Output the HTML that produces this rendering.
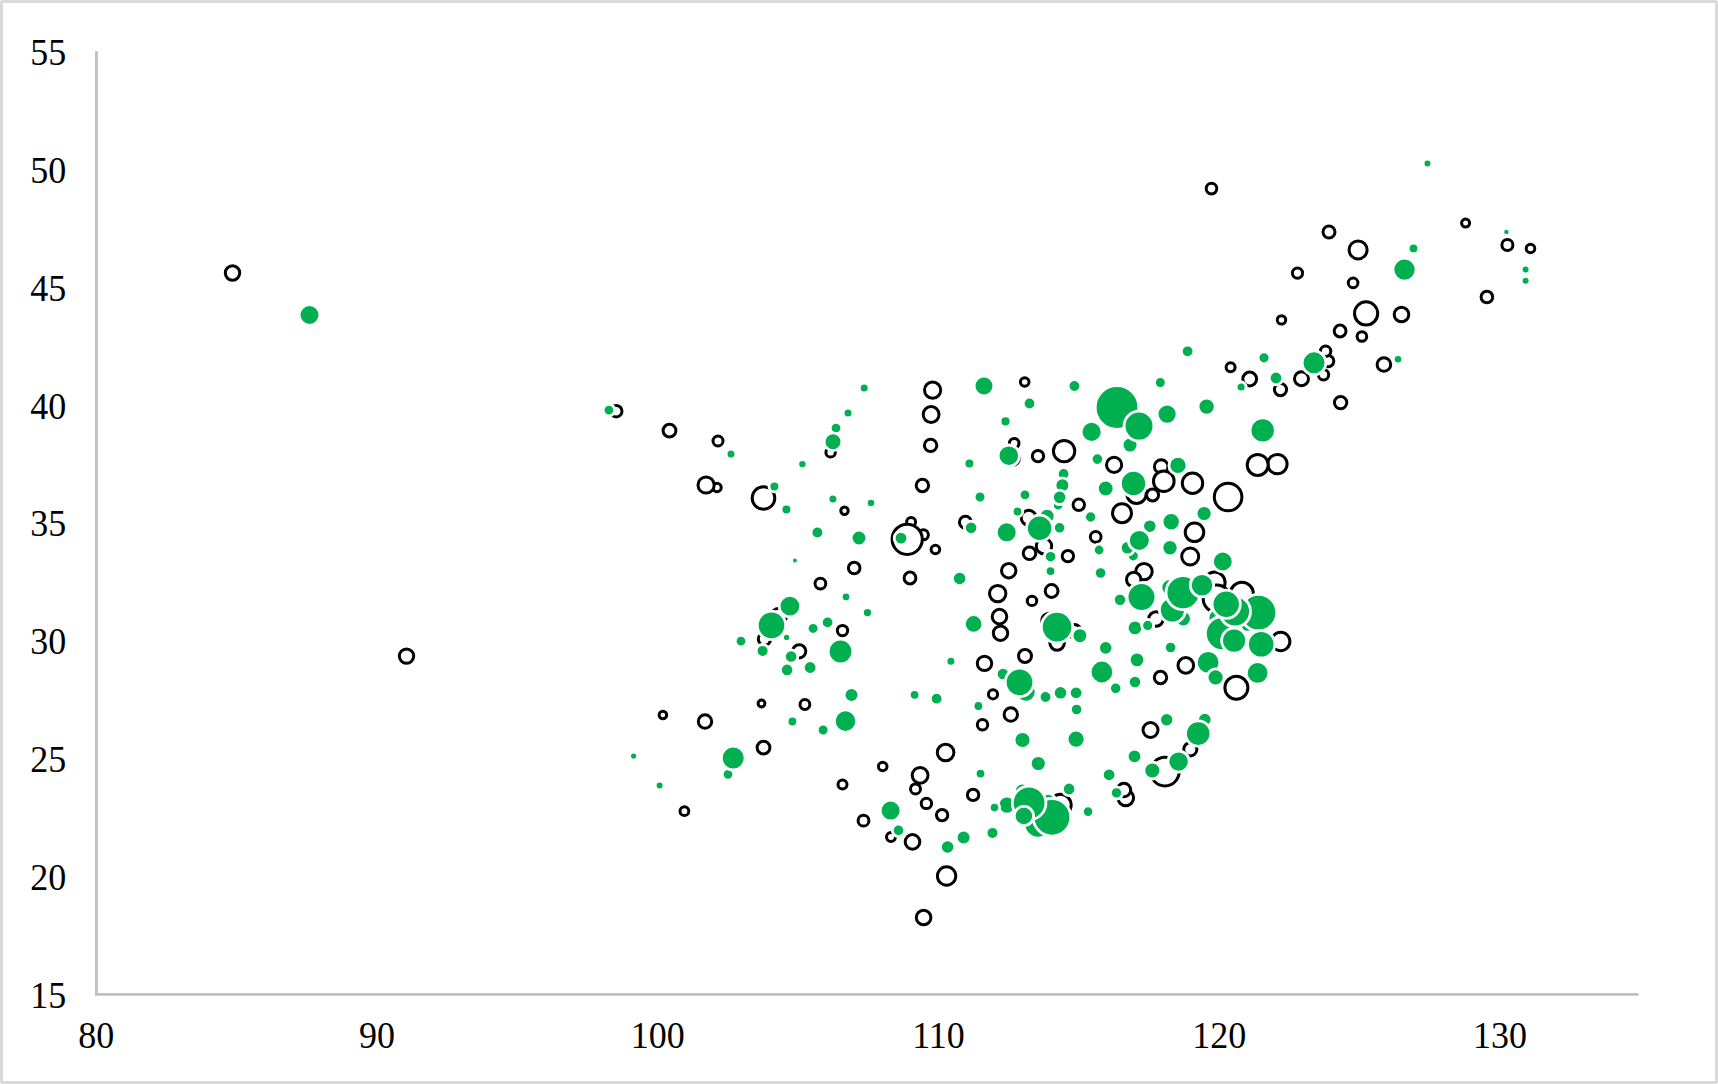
<!DOCTYPE html>
<html><head><meta charset="utf-8"><title>Bubble chart</title>
<style>
html,body{margin:0;padding:0;background:#fff;}
body{width:1718px;height:1084px;overflow:hidden;position:relative;font-family:"Liberation Serif","Noto Serif CJK SC",serif;}
svg{position:absolute;left:0;top:0;}
svg text{font-family:"Liberation Serif","Noto Serif CJK SC",serif;font-size:36px;fill:#000}
.k{fill:#fff;stroke:#000;stroke-width:3.0}
.g{fill:#00b050;stroke:#fff;stroke-width:2.8}
</style></head><body>
<svg width="1718" height="1084" viewBox="0 0 1718 1084">

<rect x="1.45" y="1.45" width="1715.1" height="1081.1" rx="1.2" fill="#fff" stroke="#d9d9d9" stroke-width="2.9"/>
<path d="M96.4 51.2V994.4H1638.5" fill="none" stroke="#bfbfbf" stroke-width="2.8"/>
<text transform="translate(66.3 1008.1) scale(1 1.03)" text-anchor="end">15</text>
<text transform="translate(66.3 890.2) scale(1 1.03)" text-anchor="end">20</text>
<text transform="translate(66.3 772.3) scale(1 1.03)" text-anchor="end">25</text>
<text transform="translate(66.3 654.3) scale(1 1.03)" text-anchor="end">30</text>
<text transform="translate(66.3 536.4) scale(1 1.03)" text-anchor="end">35</text>
<text transform="translate(66.3 418.5) scale(1 1.03)" text-anchor="end">40</text>
<text transform="translate(66.3 300.6) scale(1 1.03)" text-anchor="end">45</text>
<text transform="translate(66.3 182.6) scale(1 1.03)" text-anchor="end">50</text>
<text transform="translate(66.3 64.7) scale(1 1.03)" text-anchor="end">55</text>
<text transform="translate(96.3 1047.8) scale(1 1.03)" text-anchor="middle">80</text>
<text transform="translate(377.0 1047.8) scale(1 1.03)" text-anchor="middle">90</text>
<text transform="translate(657.8 1047.8) scale(1 1.03)" text-anchor="middle">100</text>
<text transform="translate(938.5 1047.8) scale(1 1.03)" text-anchor="middle">110</text>
<text transform="translate(1219.3 1047.8) scale(1 1.03)" text-anchor="middle">120</text>
<text transform="translate(1500.0 1047.8) scale(1 1.03)" text-anchor="middle">130</text>
<g class="k">
<circle cx="232.5" cy="273.0" r="7.2"/>
<circle cx="406.5" cy="656.1" r="7.2"/>
<circle cx="616.2" cy="411.2" r="5.8"/>
<circle cx="669.5" cy="430.6" r="6.4"/>
<circle cx="718.0" cy="441.0" r="5.0"/>
<circle cx="717.0" cy="487.5" r="4.2"/>
<circle cx="706.1" cy="485.0" r="8.1"/>
<circle cx="763.5" cy="498.0" r="11.3"/>
<circle cx="830.6" cy="452.4" r="4.7"/>
<circle cx="844.5" cy="510.7" r="3.7"/>
<circle cx="854.2" cy="568.0" r="5.8"/>
<circle cx="820.4" cy="583.6" r="5.4"/>
<circle cx="842.5" cy="630.6" r="5.2"/>
<circle cx="779.0" cy="615.8" r="7.6"/>
<circle cx="764.5" cy="639.1" r="6.2"/>
<circle cx="799.2" cy="651.3" r="6.6"/>
<circle cx="761.5" cy="703.5" r="3.4"/>
<circle cx="804.9" cy="704.5" r="4.9"/>
<circle cx="662.9" cy="715.0" r="3.8"/>
<circle cx="705.0" cy="721.5" r="6.7"/>
<circle cx="763.5" cy="747.6" r="6.4"/>
<circle cx="842.5" cy="784.6" r="4.5"/>
<circle cx="684.4" cy="811.2" r="4.4"/>
<circle cx="863.5" cy="820.7" r="5.4"/>
<circle cx="932.6" cy="390.1" r="8.1"/>
<circle cx="931.1" cy="414.5" r="7.9"/>
<circle cx="930.6" cy="445.4" r="6.2"/>
<circle cx="922.4" cy="485.5" r="6.2"/>
<circle cx="1024.7" cy="382.0" r="4.3"/>
<circle cx="1014.2" cy="443.2" r="4.8"/>
<circle cx="1012.9" cy="458.6" r="6.4"/>
<circle cx="1038.0" cy="456.1" r="5.7"/>
<circle cx="1064.1" cy="451.1" r="10.7"/>
<circle cx="1114.1" cy="464.9" r="7.6"/>
<circle cx="1078.8" cy="504.8" r="5.7"/>
<circle cx="1122.0" cy="513.2" r="9.5"/>
<circle cx="1095.7" cy="536.8" r="5.4"/>
<circle cx="1136.5" cy="493.8" r="9.7"/>
<circle cx="1152.6" cy="494.9" r="6.0"/>
<circle cx="911.1" cy="522.0" r="4.5"/>
<circle cx="923.4" cy="534.8" r="5.0"/>
<circle cx="907.2" cy="539.3" r="15.1"/>
<circle cx="965.4" cy="522.3" r="6.0"/>
<circle cx="1028.7" cy="517.8" r="7.5"/>
<circle cx="935.4" cy="549.5" r="4.3"/>
<circle cx="910.0" cy="578.0" r="5.9"/>
<circle cx="1008.7" cy="570.7" r="7.2"/>
<circle cx="1029.5" cy="553.3" r="6.3"/>
<circle cx="1044.0" cy="546.2" r="7.7"/>
<circle cx="1067.9" cy="556.1" r="5.7"/>
<circle cx="997.7" cy="593.6" r="8.2"/>
<circle cx="1051.6" cy="591.0" r="6.4"/>
<circle cx="1032.0" cy="600.9" r="4.7"/>
<circle cx="999.5" cy="616.6" r="7.3"/>
<circle cx="1000.5" cy="633.2" r="7.2"/>
<circle cx="1144.0" cy="571.6" r="8.2"/>
<circle cx="1133.7" cy="579.5" r="7.2"/>
<circle cx="1057.1" cy="643.0" r="7.2"/>
<circle cx="1049.2" cy="620.7" r="7.5"/>
<circle cx="1074.3" cy="631.2" r="6.8"/>
<circle cx="1025.0" cy="656.0" r="6.5"/>
<circle cx="984.5" cy="663.4" r="7.2"/>
<circle cx="993.0" cy="694.3" r="4.6"/>
<circle cx="1010.8" cy="714.5" r="6.7"/>
<circle cx="982.5" cy="724.8" r="5.2"/>
<circle cx="945.6" cy="752.5" r="8.3"/>
<circle cx="882.7" cy="766.5" r="4.3"/>
<circle cx="915.5" cy="788.9" r="5.0"/>
<circle cx="920.1" cy="775.3" r="7.9"/>
<circle cx="926.4" cy="803.4" r="5.2"/>
<circle cx="942.1" cy="815.1" r="5.7"/>
<circle cx="973.1" cy="794.9" r="5.7"/>
<circle cx="891.0" cy="837.0" r="4.5"/>
<circle cx="912.5" cy="841.9" r="7.3"/>
<circle cx="946.6" cy="876.0" r="9.2"/>
<circle cx="1150.5" cy="730.0" r="7.5"/>
<circle cx="1125.7" cy="797.8" r="7.9"/>
<circle cx="1123.9" cy="790.0" r="6.8"/>
<circle cx="1060.4" cy="805.0" r="10.8"/>
<circle cx="1249.7" cy="379.0" r="6.9"/>
<circle cx="1280.5" cy="389.6" r="6.1"/>
<circle cx="1301.5" cy="378.7" r="7.0"/>
<circle cx="1323.5" cy="374.7" r="5.2"/>
<circle cx="1340.6" cy="402.6" r="6.2"/>
<circle cx="1277.4" cy="464.1" r="9.7"/>
<circle cx="1257.7" cy="464.9" r="10.5"/>
<circle cx="1161.2" cy="466.5" r="6.8"/>
<circle cx="1163.8" cy="481.2" r="10.3"/>
<circle cx="1192.5" cy="483.2" r="10.2"/>
<circle cx="1228.1" cy="497.0" r="13.8"/>
<circle cx="1194.5" cy="532.3" r="9.3"/>
<circle cx="1190.2" cy="556.5" r="8.5"/>
<circle cx="1156.0" cy="619.0" r="7.3"/>
<circle cx="1214.6" cy="582.5" r="10.5"/>
<circle cx="1241.9" cy="593.8" r="11.5"/>
<circle cx="1216.8" cy="598.7" r="13.6"/>
<circle cx="1280.7" cy="641.5" r="9.2"/>
<circle cx="1185.8" cy="665.4" r="7.8"/>
<circle cx="1160.5" cy="677.5" r="6.2"/>
<circle cx="1236.4" cy="687.8" r="11.5"/>
<circle cx="1190.3" cy="749.3" r="6.6"/>
<circle cx="1164.9" cy="771.6" r="14.3"/>
<circle cx="1329.0" cy="232.0" r="6.0"/>
<circle cx="1358.1" cy="249.9" r="9.0"/>
<circle cx="1297.5" cy="273.1" r="5.1"/>
<circle cx="1353.1" cy="282.9" r="4.8"/>
<circle cx="1366.1" cy="313.4" r="11.6"/>
<circle cx="1401.5" cy="314.5" r="7.3"/>
<circle cx="1281.5" cy="319.9" r="4.2"/>
<circle cx="1340.1" cy="331.0" r="5.9"/>
<circle cx="1361.9" cy="336.5" r="4.8"/>
<circle cx="1383.9" cy="364.5" r="6.8"/>
<circle cx="1230.6" cy="367.3" r="4.5"/>
<circle cx="1328.1" cy="361.1" r="5.7"/>
<circle cx="1325.6" cy="351.2" r="5.2"/>
<circle cx="1465.6" cy="223.1" r="4.0"/>
<circle cx="1507.4" cy="245.0" r="5.5"/>
<circle cx="1530.5" cy="248.5" r="4.3"/>
<circle cx="1486.9" cy="297.0" r="5.8"/>
<circle cx="923.6" cy="917.5" r="7.3"/>
<circle cx="1211.5" cy="188.6" r="5.3"/>
</g><g class="g">
<circle cx="309.5" cy="315.0" r="10.4"/>
<circle cx="608.9" cy="410.1" r="5.8"/>
<circle cx="864.2" cy="388.0" r="4.9"/>
<circle cx="848.0" cy="413.1" r="4.9"/>
<circle cx="836.0" cy="428.1" r="5.8"/>
<circle cx="833.0" cy="441.7" r="8.9"/>
<circle cx="731.0" cy="454.1" r="4.9"/>
<circle cx="802.4" cy="464.1" r="4.6"/>
<circle cx="774.4" cy="486.4" r="5.4"/>
<circle cx="786.4" cy="509.5" r="5.4"/>
<circle cx="832.9" cy="499.0" r="4.9"/>
<circle cx="871.0" cy="503.0" r="4.7"/>
<circle cx="817.4" cy="532.5" r="6.4"/>
<circle cx="859.0" cy="538.0" r="7.9"/>
<circle cx="794.9" cy="560.5" r="3.4"/>
<circle cx="846.0" cy="596.9" r="4.7"/>
<circle cx="867.5" cy="612.6" r="5.1"/>
<circle cx="789.9" cy="606.1" r="10.8"/>
<circle cx="771.5" cy="625.4" r="14.2"/>
<circle cx="827.6" cy="622.4" r="6.3"/>
<circle cx="813.1" cy="628.4" r="5.9"/>
<circle cx="786.6" cy="637.4" r="4.1"/>
<circle cx="741.0" cy="641.1" r="5.8"/>
<circle cx="762.6" cy="650.9" r="6.4"/>
<circle cx="791.1" cy="656.5" r="6.7"/>
<circle cx="787.1" cy="669.9" r="6.7"/>
<circle cx="810.1" cy="667.5" r="6.8"/>
<circle cx="840.5" cy="651.5" r="12.3"/>
<circle cx="851.5" cy="695.0" r="7.4"/>
<circle cx="845.5" cy="721.1" r="11.2"/>
<circle cx="792.4" cy="721.5" r="5.3"/>
<circle cx="633.6" cy="756.1" r="4.0"/>
<circle cx="659.6" cy="785.4" r="4.4"/>
<circle cx="728.0" cy="774.3" r="5.8"/>
<circle cx="733.2" cy="758.0" r="11.9"/>
<circle cx="823.1" cy="730.0" r="5.9"/>
<circle cx="984.0" cy="386.0" r="9.9"/>
<circle cx="1074.4" cy="386.0" r="6.3"/>
<circle cx="1029.5" cy="403.5" r="6.3"/>
<circle cx="1005.5" cy="421.4" r="5.5"/>
<circle cx="1117.0" cy="407.5" r="21.8"/>
<circle cx="1130.0" cy="445.1" r="7.9"/>
<circle cx="1139.0" cy="426.1" r="14.9"/>
<circle cx="1091.6" cy="431.9" r="10.5"/>
<circle cx="1008.8" cy="455.7" r="10.7"/>
<circle cx="969.4" cy="463.4" r="5.4"/>
<circle cx="1097.4" cy="459.1" r="6.2"/>
<circle cx="1063.6" cy="474.0" r="6.3"/>
<circle cx="1062.4" cy="485.2" r="7.4"/>
<circle cx="1058.1" cy="505.2" r="5.7"/>
<circle cx="1059.6" cy="497.3" r="7.2"/>
<circle cx="1133.5" cy="483.4" r="13.1"/>
<circle cx="1105.7" cy="488.5" r="8.3"/>
<circle cx="980.0" cy="497.0" r="5.9"/>
<circle cx="1025.0" cy="494.9" r="5.8"/>
<circle cx="1017.5" cy="511.5" r="5.3"/>
<circle cx="1047.1" cy="516.2" r="7.9"/>
<circle cx="1039.6" cy="528.2" r="13.1"/>
<circle cx="1059.6" cy="527.8" r="6.2"/>
<circle cx="1006.7" cy="532.3" r="10.4"/>
<circle cx="971.1" cy="527.8" r="6.7"/>
<circle cx="901.0" cy="538.1" r="6.8"/>
<circle cx="1090.6" cy="517.0" r="6.1"/>
<circle cx="1149.8" cy="526.2" r="7.2"/>
<circle cx="1133.2" cy="555.8" r="6.0"/>
<circle cx="1127.4" cy="547.8" r="7.2"/>
<circle cx="1139.3" cy="540.4" r="10.9"/>
<circle cx="1050.5" cy="556.7" r="6.2"/>
<circle cx="1099.1" cy="550.0" r="5.8"/>
<circle cx="1050.5" cy="571.1" r="5.3"/>
<circle cx="1100.6" cy="573.0" r="6.2"/>
<circle cx="959.6" cy="578.5" r="7.2"/>
<circle cx="1141.5" cy="597.1" r="14.4"/>
<circle cx="1120.0" cy="599.8" r="6.6"/>
<circle cx="973.6" cy="623.9" r="9.2"/>
<circle cx="1057.0" cy="627.1" r="15.7"/>
<circle cx="1079.9" cy="635.7" r="7.9"/>
<circle cx="1135.0" cy="627.9" r="7.8"/>
<circle cx="1147.7" cy="625.4" r="6.0"/>
<circle cx="1105.7" cy="647.9" r="7.2"/>
<circle cx="1137.0" cy="659.9" r="7.8"/>
<circle cx="1101.9" cy="672.0" r="11.8"/>
<circle cx="1135.0" cy="682.0" r="6.7"/>
<circle cx="1115.7" cy="688.3" r="6.2"/>
<circle cx="950.9" cy="661.2" r="4.9"/>
<circle cx="1003.0" cy="674.0" r="6.7"/>
<circle cx="1026.1" cy="692.1" r="10.0"/>
<circle cx="1019.5" cy="682.3" r="14.3"/>
<circle cx="1045.5" cy="697.0" r="6.3"/>
<circle cx="1060.5" cy="692.8" r="7.2"/>
<circle cx="1076.1" cy="692.8" r="6.8"/>
<circle cx="1076.6" cy="709.5" r="6.2"/>
<circle cx="914.6" cy="694.8" r="5.3"/>
<circle cx="936.6" cy="698.7" r="6.3"/>
<circle cx="978.4" cy="706.0" r="5.3"/>
<circle cx="1022.5" cy="740.0" r="8.5"/>
<circle cx="1076.1" cy="739.2" r="9.0"/>
<circle cx="1038.3" cy="763.5" r="8.0"/>
<circle cx="980.5" cy="773.6" r="5.3"/>
<circle cx="1134.5" cy="756.3" r="7.3"/>
<circle cx="1109.1" cy="774.8" r="6.8"/>
<circle cx="1152.3" cy="770.5" r="8.5"/>
<circle cx="1069.1" cy="788.9" r="6.7"/>
<circle cx="1116.5" cy="792.9" r="6.1"/>
<circle cx="1088.1" cy="811.6" r="5.7"/>
<circle cx="890.6" cy="810.6" r="10.4"/>
<circle cx="898.5" cy="830.4" r="6.2"/>
<circle cx="947.6" cy="847.0" r="7.2"/>
<circle cx="963.6" cy="837.4" r="7.4"/>
<circle cx="992.5" cy="832.9" r="6.4"/>
<circle cx="1006.9" cy="805.2" r="9.0"/>
<circle cx="994.5" cy="807.6" r="5.2"/>
<circle cx="1022.3" cy="791.1" r="7.9"/>
<circle cx="1048.1" cy="800.8" r="7.4"/>
<circle cx="1037.8" cy="824.3" r="13.8"/>
<circle cx="1052.0" cy="817.3" r="18.8"/>
<circle cx="1029.1" cy="803.0" r="16.8"/>
<circle cx="1023.9" cy="816.0" r="9.7"/>
<circle cx="1160.3" cy="382.5" r="5.9"/>
<circle cx="1167.1" cy="414.1" r="10.0"/>
<circle cx="1206.6" cy="406.6" r="8.6"/>
<circle cx="1241.1" cy="387.0" r="5.0"/>
<circle cx="1276.0" cy="378.0" r="6.8"/>
<circle cx="1262.7" cy="430.4" r="12.6"/>
<circle cx="1178.0" cy="465.4" r="9.1"/>
<circle cx="1204.1" cy="513.5" r="8.0"/>
<circle cx="1171.2" cy="521.8" r="9.1"/>
<circle cx="1170.0" cy="547.8" r="8.1"/>
<circle cx="1222.8" cy="561.5" r="10.3"/>
<circle cx="1169.8" cy="587.5" r="8.9"/>
<circle cx="1183.3" cy="618.7" r="8.1"/>
<circle cx="1172.4" cy="610.0" r="13.0"/>
<circle cx="1183.1" cy="592.6" r="17.1"/>
<circle cx="1202.0" cy="585.2" r="11.7"/>
<circle cx="1217.4" cy="617.8" r="9.4"/>
<circle cx="1247.2" cy="625.2" r="7.0"/>
<circle cx="1258.5" cy="612.6" r="18.3"/>
<circle cx="1222.5" cy="633.6" r="17.1"/>
<circle cx="1235.1" cy="611.5" r="15.4"/>
<circle cx="1226.2" cy="604.3" r="14.1"/>
<circle cx="1234.1" cy="640.6" r="12.5"/>
<circle cx="1261.2" cy="644.3" r="13.7"/>
<circle cx="1170.6" cy="647.5" r="6.2"/>
<circle cx="1208.1" cy="662.4" r="11.8"/>
<circle cx="1215.6" cy="677.4" r="8.5"/>
<circle cx="1257.6" cy="672.9" r="11.3"/>
<circle cx="1166.7" cy="719.8" r="7.1"/>
<circle cx="1204.8" cy="719.5" r="7.2"/>
<circle cx="1198.2" cy="733.6" r="12.7"/>
<circle cx="1178.6" cy="761.6" r="10.6"/>
<circle cx="1413.5" cy="248.4" r="5.3"/>
<circle cx="1404.5" cy="269.6" r="11.6"/>
<circle cx="1187.6" cy="351.3" r="6.3"/>
<circle cx="1264.0" cy="357.8" r="6.0"/>
<circle cx="1314.0" cy="362.8" r="11.9"/>
<circle cx="1398.0" cy="359.3" r="4.7"/>
<circle cx="1427.5" cy="163.6" r="4.4"/>
<circle cx="1506.4" cy="231.9" r="3.6"/>
<circle cx="1525.6" cy="269.5" r="4.4"/>
<circle cx="1525.6" cy="280.7" r="4.4"/>
</g></svg></body></html>
